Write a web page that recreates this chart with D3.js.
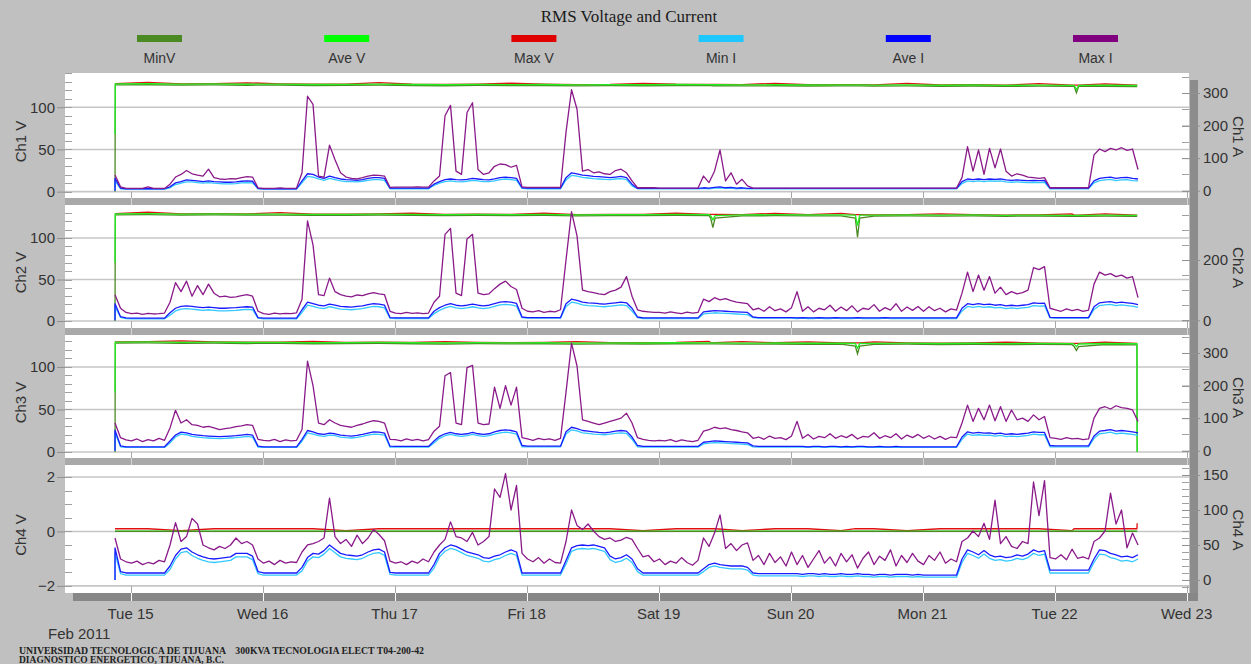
<!DOCTYPE html>
<html><head><meta charset="utf-8">
<script src="https://cdn.jsdelivr.net/npm/d3@7/dist/d3.min.js"></script>
<style>
html,body{margin:0;padding:0;background:#c0c0c0;overflow:hidden;}
svg{display:block;}
text{font-family:"Liberation Sans",Arial,sans-serif;}
</style></head><body>
<svg id="chart" width="1251" height="664"></svg>
<script>
// ---------------- DATA ----------------
const title = "RMS Voltage and Current";
const legendNames = ["MinV","Ave V","Max V","Min I","Ave I","Max I"];
const dayLabels = ["Tue 15","Wed 16","Thu 17","Fri 18","Sat 19","Sun 20","Mon 21","Tue 22","Wed 23"];
const dayDates = ["2011-02-15","2011-02-16","2011-02-17","2011-02-18","2011-02-19","2011-02-20","2011-02-21","2011-02-22","2011-02-23"];
const yearLabel = "Feb 2011";
const footer1 = "UNIVERSIDAD TECNOLOGICA DE TIJUANA    300KVA TECNOLOGIA ELECT T04-200-42";
const footer2 = "DIAGNOSTICO ENERGETICO, TIJUANA, B.C.";
const chVLabels = ["Ch1 V","Ch2 V","Ch3 V","Ch4 V"];
const chALabels = ["Ch1 A","Ch2 A","Ch3 A","Ch4 A"];
const vTicks = [[0,50,100],[0,50,100],[0,50,100],[-2,0,2]];
const aTicks = [[0,100,200,300],[0,200],[0,100,200,300],[0,50,100,150]];

// current samples: hourly from 2011-02-14 21:10 (3 values Feb14, 24 per day Feb15..Feb21, 16 on Feb22)
const startTime = "2011-02-14T21:10:00";
const ch1MaxI = [48,12,7,
 7,7,7,12,7,7,7, 20,42,50,62,52,48,45,66,40,36,35,37,36,40,43,42,9,
 7,7,7,9,7,7,8, 55,290,265,45,42,140,95,55,42,38,36,40,45,48,47,45,10,
 11,11,11,11,12,11,11, 30,45,230,262,60,50,240,270,65,50,55,75,82,80,72,78,12,
 10,10,10,10,10,10,10, 180,310,250,60,65,55,58,52,50,62,66,55,30,9,9,9,9,
 8,8,8,8,8,8,8,8, 45,25,60,125,30,55,20,35,15,8,8,8,8,8,8,8,
 8,8,8,8,8,8,8,8,8,8,8,8,8,8,8,8,8,8,8,8,8,8,8,8,
 8,8,8,8,8,8,8, 40,135,60,125,50,130,70,128,60,45,52,48,42,40,38,40,9,
 9,9,9,9,9,9,9, 110,128,120,130,125,132,124,128,65];
const ch1AveI = [38,8,6,
 6,6,6,6,6,6,6, 12,24,28,33,32,30,28,30,28,27,26,26,27,29,30,29,7,
 6,6,6,6,6,6,6, 30,52,50,42,38,45,40,36,34,33,32,34,38,40,40,38,8,
 8,8,8,8,8,8,8, 20,28,34,36,34,33,35,38,36,34,33,36,40,42,40,38,9,
 8,8,8,8,8,8,8, 40,55,52,48,46,44,43,42,40,42,44,40,20,7,7,7,7,
 7,7,7,7,7,7,7,7, 9,8,10,12,9,10,8,9,7,7,7,7,7,7,7,7,
 7,7,7,7,7,7,7,7,7,7,7,7,7,7,7,7,7,7,7,7,7,7,7,7,
 7,7,7,7,7,7,7, 28,36,34,36,34,36,35,36,33,32,33,32,31,32,31,32,8,
 8,8,8,8,8,8,8, 30,38,40,42,38,40,41,38,36];
const ch1MinI = [30,6,5,
 5,5,5,5,5,5,5, 9,19,23,27,27,25,23,25,23,22,21,21,22,24,25,24,6,
 5,5,5,5,5,5,5, 24,44,42,36,32,38,34,30,28,28,27,29,32,34,34,32,6,
 6,6,6,6,6,6,6, 16,23,28,30,28,27,29,32,30,28,28,30,34,36,34,32,7,
 6,6,6,6,6,6,6, 33,47,45,41,39,37,36,35,34,36,37,34,15,6,6,6,6,
 6,6,6,6,6,6,6,6, 7,6,8,9,7,8,6,7,6,6,6,6,6,6,6,6,
 6,6,6,6,6,6,6,6,6,6,6,6,6,6,6,6,6,6,6,6,6,6,6,6,
 6,6,6,6,6,6,6, 22,30,28,30,28,30,29,30,27,26,27,26,25,26,25,26,6,
 6,6,6,6,6,6,6, 24,31,33,35,31,33,34,31,30];

const ch2MaxI = [85,40,26,
 22,24,20,23,21,22,24, 60,125,95,130,80,115,85,120,90,78,80,76,78,82,85,80,30,
 22,20,24,21,23,22,25, 70,330,250,85,82,140,95,85,80,78,84,82,88,92,88,85,30,
 24,22,26,23,25,22,24, 60,80,285,305,90,82,270,285,90,85,88,105,120,130,112,102,40,
 30,28,32,26,30,28,35, 200,360,280,100,95,92,88,85,95,100,110,145,80,35,30,28,26,
 26,24,28,25,22,27,24,26, 70,62,75,68,72,65,60,58,55,35,40,30,45,32,38,28,
 42,95,30,45,28,40,35,50,30,44,32,48,28,40,36,52,30,42,34,55,30,44,33,46,
 30,45,32,40,28,38,34, 90,160,95,150,100,145,90,110,85,95,88,92,100,175,168,178,40,
 35,30,38,32,36,30,34, 120,160,150,155,145,150,140,145,75];
const ch2AveI = [55,12,8,
 7,7,7,7,7,7,7, 25,40,46,48,46,44,42,44,42,40,40,41,42,44,45,44,9,
 7,7,7,7,7,7,7, 35,60,55,50,48,54,50,46,45,44,46,48,52,55,54,50,9,
 8,8,8,8,8,8,8, 30,42,50,55,50,48,50,54,50,48,50,55,60,62,60,56,11,
 9,9,9,9,9,9,9, 55,70,66,60,58,57,55,54,56,58,60,58,40,11,8,8,8,
 8,8,8,8,8,8,8,8, 28,30,32,31,30,29,28,27,26,11,9,9,9,9,9,9,
 9,8,9,8,8,9,8,8,9,8,8,8,9,8,8,8,8,9,8,8,8,8,8,8,
 8,8,8,8,8,8,8, 40,55,52,55,52,54,50,52,48,50,48,50,52,58,56,57,10,
 9,9,9,9,9,9,9, 45,58,60,62,58,60,58,56,52];
const ch2MinI = [45,10,6,
 5,5,5,5,5,5,5, 17,31,37,39,37,35,33,35,33,31,31,32,33,35,36,35,7,
 5,5,5,5,5,5,5, 26,50,46,41,39,45,41,37,36,35,37,39,43,46,45,41,7,
 6,6,6,6,6,6,6, 22,33,41,46,41,39,41,45,41,39,41,46,51,53,51,47,9,
 7,7,7,7,7,7,7, 46,60,57,51,49,48,46,45,47,49,51,49,31,9,6,6,6,
 6,6,6,6,6,6,6,6, 21,23,25,24,23,22,21,20,19,9,7,7,7,7,7,7,
 7,6,7,6,6,7,6,6,7,6,6,6,7,6,6,6,6,7,6,6,6,6,6,6,
 6,6,6,6,6,6,6, 31,46,43,46,43,45,41,43,39,41,39,41,43,49,47,48,8,
 7,7,7,7,7,7,7, 36,49,51,53,49,51,49,47,43];

const ch3MaxI = [85,40,33,
 30,36,28,34,30,38,32, 70,124,85,95,80,78,72,75,70,65,68,70,74,76,80,78,35,
 32,30,35,28,33,30,32, 65,275,200,85,80,95,85,78,75,72,78,82,88,92,90,85,35,
 34,30,36,32,35,30,34, 60,75,230,240,85,80,255,262,85,80,82,195,130,200,140,195,40,
 36,32,38,34,36,32,38, 180,330,260,95,90,85,80,85,90,95,100,115,85,40,35,32,30,
 32,30,34,28,33,30,28,32, 60,65,72,68,70,65,62,58,55,38,42,35,45,38,40,34,
 45,90,38,50,36,44,40,52,38,46,40,50,36,44,42,55,38,46,40,52,36,48,40,50,
 38,46,36,44,35,42,40, 85,140,90,130,95,140,92,135,90,125,95,100,90,110,95,105,40,
 38,35,40,36,38,34,36, 100,130,135,128,138,132,130,125,90];
const ch3AveI = [63,15,12,
 12,12,12,12,12,12,12, 30,48,57,55,50,48,46,45,44,43,44,45,46,48,50,48,14,
 12,12,12,12,12,12,12, 35,62,58,52,50,54,52,48,46,45,47,50,54,58,57,54,14,
 13,13,13,13,13,13,13, 30,44,52,56,52,50,52,56,52,50,52,58,62,64,62,58,16,
 14,14,14,14,14,14,14, 58,72,68,62,60,58,56,55,57,60,62,60,42,16,13,13,13,
 13,13,13,13,13,13,13,13, 26,28,30,29,28,27,26,25,24,15,13,13,13,13,13,13,
 13,13,13,12,13,13,12,13,13,12,13,12,13,13,12,12,13,12,12,13,12,12,12,12,
 12,12,12,12,12,12,12, 42,58,54,56,54,55,52,54,50,52,50,52,54,58,56,56,16,
 15,15,15,15,15,15,15, 45,60,62,65,60,62,60,58,55];
const ch3MinI = [55,12,10,
 10,10,10,10,10,10,10, 24,42,51,49,44,42,40,39,38,37,38,39,40,42,44,42,11,
 10,10,10,10,10,10,10, 29,55,51,46,44,48,46,42,40,39,41,44,48,51,50,48,11,
 11,11,11,11,11,11,11, 24,38,46,50,46,44,46,50,46,44,46,51,55,57,55,51,12,
 12,12,12,12,12,12,12, 51,64,61,55,53,51,50,49,51,53,55,53,35,12,11,11,11,
 11,11,11,11,11,11,11,11, 21,23,25,24,23,22,21,20,19,12,11,11,11,11,11,11,
 11,11,11,10,11,11,10,11,11,10,11,10,11,11,10,10,11,10,10,11,10,10,10,10,
 10,10,10,10,10,10,10, 35,51,47,49,47,48,45,47,43,45,43,45,47,51,49,49,12,
 12,12,12,12,12,12,12, 38,52,54,57,52,54,52,50,47];

const ch4MaxI = [60,30,26,
 24,27,22,25,23,28,26, 50,82,55,62,88,80,50,46,43,48,45,50,60,52,55,50,30,
 24,27,22,28,24,26,25, 40,50,52,55,60,117,62,52,58,48,64,52,60,72,65,56,27,
 24,26,22,27,24,30,26, 40,50,58,83,62,60,55,68,50,55,62,130,118,152,100,135,38,
 30,26,32,24,30,25,24, 55,100,78,72,80,70,62,58,60,55,57,61,58,45,33,35,26,
 30,22,27,24,32,25,21,28, 60,48,67,93,45,52,42,50,53,28,35,22,38,25,33,20,
 40,22,35,18,30,42,24,33,20,38,26,36,17,31,40,22,34,28,43,20,35,25,38,27,
 22,35,28,40,24,30,26, 55,60,70,62,81,58,114,52,62,48,45,55,52,140,92,142,32,
 30,36,29,44,31,33,30, 55,60,70,124,80,100,46,67,50];
const ch4AveI = [46,12,10,
 10,10,10,10,10,10,10, 20,35,44,46,40,36,33,31,30,31,32,33,38,38,38,34,12,
 10,10,10,10,10,10,10, 18,32,38,37,42,50,44,38,36,35,34,36,40,43,44,40,11,
 10,10,10,10,10,10,10, 22,38,46,50,48,44,40,38,36,32,31,34,36,40,43,40,10,
 10,10,10,10,10,10,10, 28,46,49,50,49,50,48,46,34,30,32,36,30,16,10,10,10,
 10,10,10,10,10,10,10,10, 16,22,24,22,21,20,20,20,18,10,9,9,9,9,9,9,
 9,9,8,9,9,8,9,8,8,9,8,8,9,8,8,7,8,8,7,8,8,8,7,8,
 7,7,7,7,7,7,7, 30,43,40,36,42,36,33,34,32,33,36,34,37,43,40,42,14,
 14,14,14,14,14,14,14, 30,43,42,38,36,33,34,32,36];
const ch4MinI = [38,9,7,
 7,7,7,7,7,7,7, 15,30,39,41,35,31,28,26,25,26,27,28,33,33,33,29,9,
 7,7,7,7,7,7,7, 13,27,33,32,37,45,39,33,31,30,29,31,35,38,39,35,8,
 7,7,7,7,7,7,7, 17,33,41,45,43,39,35,33,31,27,26,29,31,35,38,35,7,
 7,7,7,7,7,7,7, 23,41,44,45,44,45,43,41,29,25,27,31,25,12,7,7,7,
 7,7,7,7,7,7,7,7, 12,18,20,18,17,16,16,16,14,7,6,6,6,6,6,6,
 6,6,5,6,6,5,6,5,5,6,5,5,6,5,5,4,5,5,4,5,5,5,4,5,
 4,4,4,4,4,4,4, 25,38,35,31,37,31,28,29,27,28,31,29,32,38,35,37,10,
 10,10,10,10,10,10,10, 25,37,36,32,30,27,28,26,30];

// voltage samples: hours after startTime
const vHours = [0,0.05,6,12,18,24,30,36,42,48,54,60,66,72,78,84,90,96,102,108,108.3,108.7,109.1,
 114,120,126,132,134.6,135,135.4,138,144,150,156,162,168,174,174.4,174.8,175.2,180,185.8,185.85];
const ch1MinV = [0,126.4,126.6,126.1,126.4,126.0,126.2,125.7,125.9,126.1,125.7,125.4,125.8,125.5,125.7,125.3,125.6,125.4,125.7,125.5,125.5,125.4,125.4,125.2,125.4,125.1,125.3,125.3,125.2,125.2,125.0,125.2,124.8,125.1,124.7,125.0,124.6,124.6,117.0,124.6,124.8,124.5,124.5];
const ch1AveV = [68,127.6,127.8,127.3,127.6,127.2,127.4,126.9,127.1,127.3,126.9,126.6,127.0,126.7,126.9,126.5,126.8,126.6,126.9,126.7,126.7,126.6,126.6,126.4,126.6,126.3,126.5,126.5,126.4,126.4,126.2,126.4,126.0,126.3,125.9,126.2,125.8,125.8,121.0,125.8,126.0,125.7,125.7];
const ch1MaxV = [127.8,127.9,129.5,127.6,127.9,128.9,127.7,127.2,127.4,129.0,127.2,126.9,127.3,128.4,127.2,126.8,127.1,128.3,127.2,127.0,127.0,126.9,126.9,126.7,128.3,126.6,126.8,126.8,126.7,126.7,126.5,128.1,126.3,126.6,126.2,127.9,126.1,126.1,126.1,126.1,127.7,126.0,126.0];
const ch2MinV = [0,128.0,128.2,127.7,127.9,127.5,127.7,127.2,127.4,127.6,127.2,126.9,127.3,127.0,127.2,126.8,127.1,126.9,127.2,127.0,124.0,112.5,124.0,126.7,126.9,126.6,126.8,124.0,101.0,124.0,126.5,126.7,126.3,126.6,126.2,126.5,126.1,126.1,126.1,126.1,126.3,126.0,126.0];
const ch2AveV = [70,129.2,129.4,128.9,129.1,128.7,128.9,128.4,128.6,128.8,128.4,128.1,128.5,128.2,128.4,128.0,128.3,128.1,128.4,128.2,127.0,122.0,127.0,127.9,128.1,127.8,128.0,127.5,115.0,127.5,127.7,127.9,127.5,127.8,127.4,127.7,127.3,127.3,127.3,127.3,127.5,127.2,127.2];
const ch2MaxV = [129.4,129.5,131.1,129.2,129.4,129.0,130.6,128.7,128.9,129.1,130.1,128.4,128.8,128.5,130.1,128.3,128.6,128.4,130.1,128.5,128.5,128.5,128.5,128.2,129.8,128.1,129.7,128.2,128.2,128.2,128.0,128.2,129.2,128.1,127.7,128.0,129.0,127.6,127.6,127.6,129.2,127.5,127.5];
const ch3MinV = [0,128.1,128.3,127.8,128.0,127.6,127.8,127.3,127.5,127.7,127.3,127.0,127.4,127.1,127.3,126.9,127.2,127.0,127.3,127.1,127.1,127.1,127.1,126.8,127.0,126.7,126.9,124.5,115.5,124.5,126.6,126.8,126.4,126.7,126.3,126.6,126.2,124.0,119.5,124.0,126.4,126.1,0];
const ch3AveV = [70,129.3,129.5,129.0,129.2,128.8,129.0,128.5,128.7,128.9,128.5,128.2,128.6,128.3,128.5,128.1,128.4,128.2,128.5,128.3,128.3,128.3,128.3,128.0,128.2,127.9,128.1,127.6,122.0,127.6,127.8,128.0,127.6,127.9,127.5,127.8,127.4,127.0,124.0,127.0,127.6,127.3,0];
const ch3MaxV = [129.5,129.6,129.8,130.7,129.5,129.1,129.3,130.2,129.0,129.2,128.8,129.9,128.9,128.6,128.8,129.8,128.7,128.5,128.8,130.0,128.6,128.6,128.6,129.7,128.5,129.6,128.4,128.4,128.4,128.4,129.5,128.3,127.9,128.2,129.2,128.1,127.7,127.7,127.7,127.7,129.3,127.6,127.6];
const ch4MinV = [0,0,0,0,0,0,0,0,0,0,0,0,0,0,0,0,0,0,0,0,0,0,0,0,0,0,0,0,0,0,0,0,0,0,0,0,0,0,0,0,0,0,0];
const ch4AveV = [0.01,0.01,0.01,0.01,0.01,0.01,0.01,0.01,0.01,0.01,0.01,0.01,0.01,0.01,0.01,0.01,0.01,0.01,0.01,0.01,0.01,0.01,0.01,0.01,0.01,0.01,0.01,0.01,0.01,0.01,0.01,0.01,0.01,0.01,0.01,0.01,0.01,0.01,0.01,0.01,0.01,0.01,0.01];
const ch4MaxV = [0.1,0.1,0.1,0.03,0.1,0.1,0.1,0.1,0.03,0.1,0.1,0.1,0.1,0.1,0.1,0.1,0.1,0.03,0.1,0.1,0.1,0.1,0.1,0.03,0.1,0.1,0.03,0.1,0.1,0.1,0.1,0.03,0.1,0.1,0.1,0.1,0.03,0.1,0.1,0.1,0.1,0.1,0.3];

// ---------------- LAYOUT ----------------
const colors = {minV:"#4b8a22", aveV:"#22ee22", maxV:"#e01010", minI:"#33c8ff", aveI:"#1a1aff", maxI:"#8a1a8a"};
const legendColors = ["#4b8a22","#00ff00","#e00000","#1ec8ff","#0000ff","#800080"];
const plotL = 65, plotR = 1189;
const panels = [
  {top:73,  bottom:198, vDom:[-7.5,140.5], vMinor:10,  aDom:[-22.4,361.4], aMinor:50},
  {top:205, bottom:328, vDom:[-8.4,139.8], vMinor:10,  aDom:[-25.5,382.4], aMinor:50},
  {top:335, bottom:458, vDom:[-7.1,137.6], vMinor:10,  aDom:[-22.4,355.2], aMinor:50},
  {top:465, bottom:593, vDom:[-2.26,2.44], vMinor:0.5, aDom:[-18.6,164.3], aMinor:10}
];
const chData = [
  {minV:ch1MinV,aveV:ch1AveV,maxV:ch1MaxV,minI:ch1MinI,aveI:ch1AveI,maxI:ch1MaxI},
  {minV:ch2MinV,aveV:ch2AveV,maxV:ch2MaxV,minI:ch2MinI,aveI:ch2AveI,maxI:ch2MaxI},
  {minV:ch3MinV,aveV:ch3AveV,maxV:ch3MaxV,minI:ch3MinI,aveI:ch3AveI,maxI:ch3MaxI},
  {minV:ch4MinV,aveV:ch4AveV,maxV:ch4MaxV,minI:ch4MinI,aveI:ch4AveI,maxI:ch4MaxI}
];

const svg = d3.select("#chart");
const t0 = new Date(startTime).getTime();
const x = d3.scaleTime()
  .domain([new Date("2011-02-14T12:00:00"), new Date("2011-02-23T00:00:00")])
  .range([64.6, 1186.6]);
const days = dayDates.map(d => new Date(d + "T00:00:00"));

// title
svg.append("text").attr("x",629).attr("y",22).attr("text-anchor","middle")
  .style("font-family","'Liberation Serif','Times New Roman',serif").style("font-size","17px").attr("fill","#1a1a1a")
  .text(title);
// legend
legendNames.forEach((n,i)=>{
  const cx = 159.5 + 187.2*i;
  svg.append("rect").attr("x",cx-22.5).attr("y",35).attr("width",45).attr("height",7).attr("fill",legendColors[i]);
  svg.append("text").attr("x",cx).attr("y",63).attr("text-anchor","middle")
    .style("font-size","14px").attr("fill","#333").text(n);
});

// right vertical band
svg.append("rect").attr("x",1190).attr("y",80).attr("width",8).attr("height",521).attr("fill","#8c8c8c");

const defs = svg.append("defs");

panels.forEach((p,pi)=>{
  const yV = d3.scaleLinear().domain(p.vDom).range([p.bottom,p.top]);
  const yA = d3.scaleLinear().domain(p.aDom).range([p.bottom,p.top]);
  svg.append("rect").attr("x",plotL).attr("y",p.top).attr("width",plotR-plotL).attr("height",p.bottom-p.top).attr("fill","#ffffff");
  if (pi < 3) {
    svg.append("rect").attr("x",plotL).attr("y",p.bottom).attr("width",1190-plotL).attr("height",panels[pi+1].top-p.bottom).attr("fill","#a9a9a9");
  } else {
    svg.append("rect").attr("x",73).attr("y",p.bottom).attr("width",1198-73).attr("height",8).attr("fill","#878787");
  }
  const g = svg.append("g");
  vTicks[pi].forEach(v=>{
    g.append("line").attr("x1",plotL).attr("x2",plotR).attr("y1",yV(v)).attr("y2",yV(v))
      .attr("stroke","#c6c6c6").attr("stroke-width",1.6);
  });
  const lowY = yV(vTicks[pi][0]);
  days.forEach(d=>{
    const xx = Math.round(x(d))+0.5;
    g.append("line").attr("x1",xx).attr("x2",xx).attr("y1",lowY).attr("y2",p.bottom).attr("stroke","#a8a8a8").attr("stroke-width",1);
    if (pi < 3) {
      g.append("line").attr("x1",xx).attr("x2",xx).attr("y1",p.bottom).attr("y2",panels[pi+1].top+2).attr("stroke","#d4d4d4").attr("stroke-width",1);
    } else {
      g.append("line").attr("x1",xx).attr("x2",xx).attr("y1",p.bottom).attr("y2",p.bottom+8).attr("stroke","#ffffff").attr("stroke-width",1);
    }
  });
  const vmin = Math.ceil(p.vDom[0]/p.vMinor)*p.vMinor;
  for (let v=vmin; v<=p.vDom[1]+1e-9; v+=p.vMinor) {
    const yy = Math.round(yV(v))+0.5;
    g.append("line").attr("x1",plotL).attr("x2",plotL+7).attr("y1",yy).attr("y2",yy).attr("stroke","#a0a0a0");
  }
  const amin = Math.ceil(p.aDom[0]/p.aMinor)*p.aMinor;
  for (let a=amin; a<=p.aDom[1]+1e-9; a+=p.aMinor) {
    const yy = Math.round(yA(a))+0.5;
    g.append("line").attr("x1",plotR-7).attr("x2",plotR).attr("y1",yy).attr("y2",yy).attr("stroke","#a0a0a0");
  }
  const axL = svg.append("g").attr("transform",`translate(${plotL},0)`)
    .call(d3.axisLeft(yV).tickValues(vTicks[pi]).tickSize(8).tickPadding(2).tickFormat(d3.format("d")));
  axL.select(".domain").remove();
  axL.selectAll("line").attr("stroke","#909090");
  axL.selectAll("text").style("font-size","15px").attr("fill","#333").style("font-family","'Liberation Sans',Arial,sans-serif");
  const axR = svg.append("g").attr("transform",`translate(1182,0)`)
    .call(d3.axisRight(yA).tickValues(aTicks[pi]).tickSize(18).tickPadding(3).tickFormat(d3.format("d")));
  axR.select(".domain").remove();
  axR.selectAll("line").attr("stroke","#909090");
  axR.selectAll("text").style("font-size","15px").attr("fill","#333").style("font-family","'Liberation Sans',Arial,sans-serif");
  const cy = (p.top+p.bottom)/2;
  svg.append("text").attr("transform",`translate(26,${cy+6}) rotate(-90)`).attr("text-anchor","middle")
    .style("font-size","15px").attr("fill","#333").text(chVLabels[pi]);
  svg.append("text").attr("transform",`translate(1233,${cy+1}) rotate(90)`).attr("text-anchor","middle")
    .style("font-size","15px").attr("fill","#333").text(chALabels[pi]);

  defs.append("clipPath").attr("id","clip"+pi).append("rect")
    .attr("x",plotL).attr("y",p.top).attr("width",plotR-plotL).attr("height",p.bottom-p.top);
  const lines = svg.append("g").attr("clip-path",`url(#clip${pi})`);
  const cd = chData[pi];
  const vLine = d3.line().x(d=>x(d.t)).y(d=>yV(d.v));
  const aLine = d3.line().x(d=>x(d.t)).y(d=>yA(d.v));
  const vSeries = arr => arr.map((v,i)=>({t:new Date(t0+vHours[i]*3600e3), v}));
  const iSeries = (arr, fromZero) => {
    const pts = arr.map((v,i)=>({t:new Date(t0+i*3600e3), v}));
    if (fromZero) pts.unshift({t:new Date(t0), v:0});
    return pts;
  };
  const vOrder = pi < 3 ? ["maxV","minV","aveV"] : ["maxV","aveV","minV"];
  vOrder.forEach(k=>{
    lines.append("path").attr("d",vLine(vSeries(cd[k]))).attr("fill","none").attr("stroke",colors[k]).attr("stroke-width",1.3);
  });
  [["minI",true],["aveI",true],["maxI",false]].forEach(([k,z])=>{
    lines.append("path").attr("d",aLine(iSeries(cd[k],z))).attr("fill","none").attr("stroke",colors[k]).attr("stroke-width",1.3).attr("stroke-linejoin","round");
  });
});

days.forEach((d,i)=>{
  svg.append("text").attr("x",x(d)).attr("y",619).attr("text-anchor","middle")
    .style("font-size","15px").attr("fill","#333").text(dayLabels[i]);
});
svg.append("text").attr("x",48).attr("y",639).style("font-size","15px").attr("fill","#333").text(yearLabel);
svg.append("text").attr("x",19).attr("y",654).style("white-space","pre")
  .attr("textLength",405).attr("lengthAdjust","spacingAndGlyphs")
  .style("font-family","'Liberation Serif','Times New Roman',serif").style("font-size","9.5px").style("font-weight","bold").attr("fill","#222")
  .text(footer1);
svg.append("text").attr("x",19).attr("y",663).style("white-space","pre")
  .attr("textLength",205).attr("lengthAdjust","spacingAndGlyphs")
  .style("font-family","'Liberation Serif','Times New Roman',serif").style("font-size","9.5px").style("font-weight","bold").attr("fill","#222")
  .text(footer2);
</script>
</body></html>
